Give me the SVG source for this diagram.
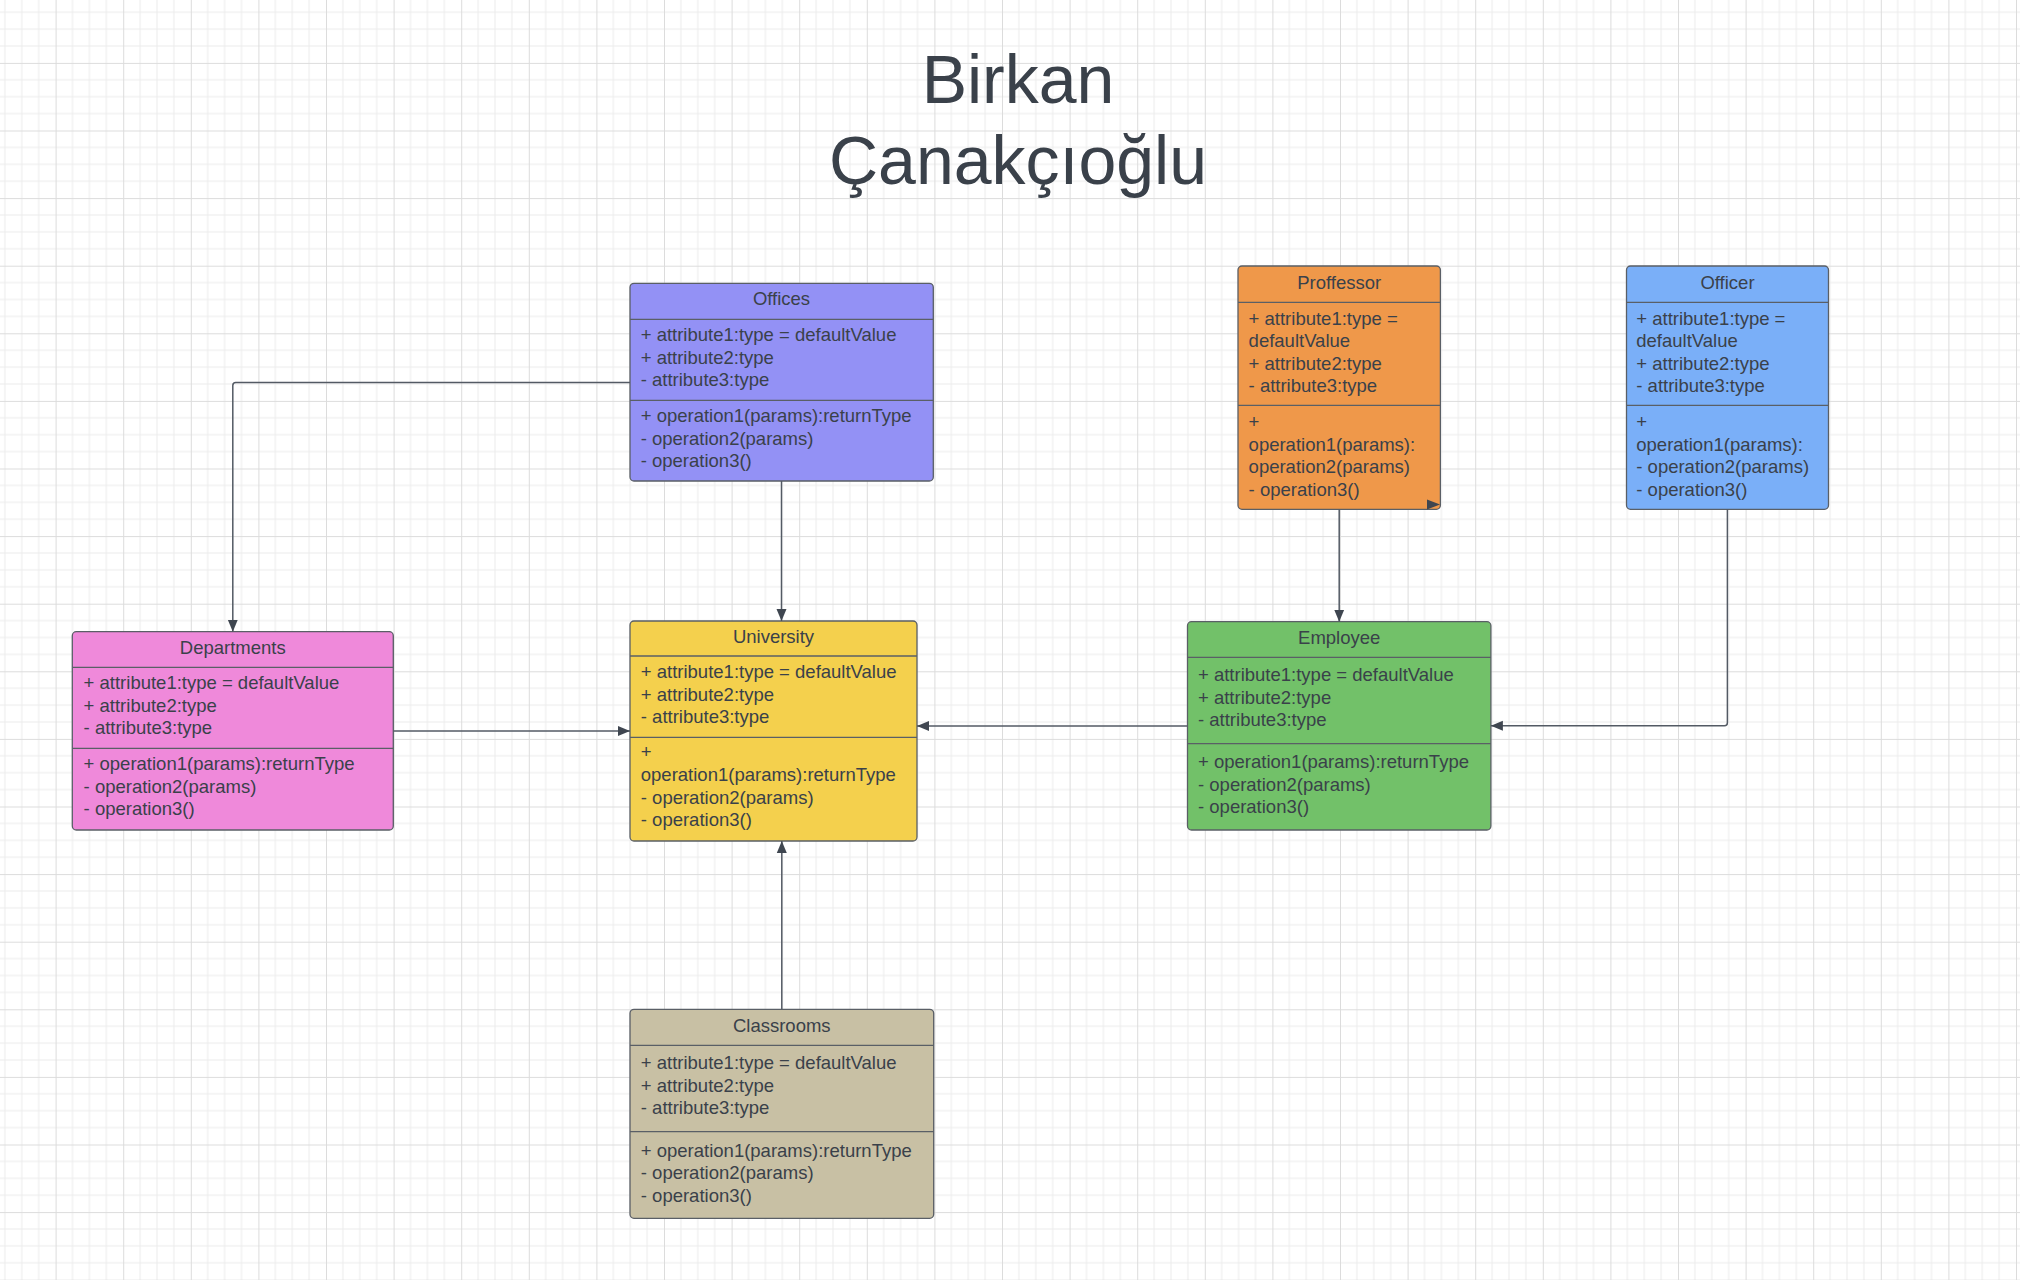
<svg xmlns="http://www.w3.org/2000/svg" width="2020" height="1280" viewBox="0 0 2020 1280">
<defs>
<pattern id="grid" patternUnits="userSpaceOnUse" x="55.6" y="62.9" width="67.6" height="67.6">
<path d="M16.9,0V67.6M33.8,0V67.6M50.7,0V67.6M0,16.9H67.6M0,33.8H67.6M0,50.7H67.6" stroke="#ececec" stroke-width="1" fill="none"/>
<path d="M0.5,0V67.6M0,0.5H67.6" stroke="#dcdcdc" stroke-width="1" fill="none"/>
</pattern>
<marker id="arr" markerUnits="userSpaceOnUse" markerWidth="13" markerHeight="11" refX="12" refY="5" orient="auto" viewBox="0 0 13 10">
<path d="M0,0L12,5L0,10z" fill="#3f4650"/>
</marker>
</defs>
<style>
.box{stroke:#5a5f66;stroke-width:1.3}
.div{stroke:#5a5f66;stroke-width:1.3}
text{font-family:"Liberation Sans",Arial,sans-serif;font-size:18.5px;fill:#3a414a}
.t{text-anchor:middle}
.title{font-size:68px;text-anchor:middle}
.con{fill:none;stroke:#535a64;stroke-width:1.5}
</style>
<rect width="2020" height="1280" fill="#ffffff"/>
<rect width="2020" height="1280" fill="url(#grid)"/>

<g id="title">
<text class="title" x="1018" y="102.7">Birkan</text>
<text class="title" x="1018" y="184.3">Çanakçıoğlu</text>
</g>

<g id="offices">
<rect class="box" x="630" y="283.3" width="303.3" height="197.7" rx="4" fill="#9391f5"/>
<line class="div" x1="630" y1="319.3" x2="933.3" y2="319.3"/>
<line class="div" x1="630" y1="400.3" x2="933.3" y2="400.3"/>
<text class="t" x="781.5" y="305">Offices</text>
<text x="640.7" y="341">+ attribute1:type = defaultValue</text>
<text x="640.7" y="363.5">+ attribute2:type</text>
<text x="640.7" y="385.5">- attribute3:type</text>
<text x="640.7" y="422">+ operation1(params):returnType</text>
<text x="640.7" y="444.5">- operation2(params)</text>
<text x="640.7" y="467">- operation3()</text>
</g>

<g id="departments">
<rect class="box" x="72.3" y="631.7" width="321" height="198.3" rx="4" fill="#ef89da"/>
<line class="div" x1="72.3" y1="667.3" x2="393.3" y2="667.3"/>
<line class="div" x1="72.3" y1="748.3" x2="393.3" y2="748.3"/>
<text class="t" x="232.8" y="654">Departments</text>
<text x="83.6" y="689">+ attribute1:type = defaultValue</text>
<text x="83.6" y="711.5">+ attribute2:type</text>
<text x="83.6" y="734">- attribute3:type</text>
<text x="83.6" y="770">+ operation1(params):returnType</text>
<text x="83.6" y="792.5">- operation2(params)</text>
<text x="83.6" y="815">- operation3()</text>
</g>

<g id="university">
<rect class="box" x="630" y="621" width="287" height="220" rx="4" fill="#f4d04d"/>
<line class="div" x1="630" y1="656" x2="917" y2="656"/>
<line class="div" x1="630" y1="737.3" x2="917" y2="737.3"/>
<text class="t" x="773.5" y="642.7">University</text>
<text x="640.8" y="678.3">+ attribute1:type = defaultValue</text>
<text x="640.8" y="701">+ attribute2:type</text>
<text x="640.8" y="723.3">- attribute3:type</text>
<text x="640.8" y="758">+</text>
<text x="640.8" y="781">operation1(params):returnType</text>
<text x="640.8" y="803.5">- operation2(params)</text>
<text x="640.8" y="826">- operation3()</text>
</g>

<g id="employee">
<rect class="box" x="1187.5" y="621.7" width="303.4" height="208.3" rx="4" fill="#72c169"/>
<line class="div" x1="1187.5" y1="657.3" x2="1490.9" y2="657.3"/>
<line class="div" x1="1187.5" y1="743.7" x2="1490.9" y2="743.7"/>
<text class="t" x="1339.2" y="644">Employee</text>
<text x="1198" y="681">+ attribute1:type = defaultValue</text>
<text x="1198" y="703.5">+ attribute2:type</text>
<text x="1198" y="726">- attribute3:type</text>
<text x="1198" y="768">+ operation1(params):returnType</text>
<text x="1198" y="790.5">- operation2(params)</text>
<text x="1198" y="813">- operation3()</text>
</g>

<g id="classrooms">
<rect class="box" x="630" y="1009.3" width="303.7" height="209" rx="4" fill="#c8c0a4"/>
<line class="div" x1="630" y1="1045.3" x2="933.7" y2="1045.3"/>
<line class="div" x1="630" y1="1131.7" x2="933.7" y2="1131.7"/>
<text class="t" x="781.8" y="1031.7">Classrooms</text>
<text x="640.8" y="1069.3">+ attribute1:type = defaultValue</text>
<text x="640.8" y="1092">+ attribute2:type</text>
<text x="640.8" y="1114">- attribute3:type</text>
<text x="640.8" y="1156.7">+ operation1(params):returnType</text>
<text x="640.8" y="1179">- operation2(params)</text>
<text x="640.8" y="1201.5">- operation3()</text>
</g>

<g id="proffessor">
<rect class="box" x="1238" y="266" width="202.4" height="243.3" rx="4" fill="#ef984a"/>
<line class="div" x1="1238" y1="302.3" x2="1440.4" y2="302.3"/>
<line class="div" x1="1238" y1="405.3" x2="1440.4" y2="405.3"/>
<text class="t" x="1339.2" y="289.3">Proffessor</text>
<text x="1248.6" y="325">+ attribute1:type =</text>
<text x="1248.6" y="347.3">defaultValue</text>
<text x="1248.6" y="369.6">+ attribute2:type</text>
<text x="1248.6" y="392">- attribute3:type</text>
<text x="1248.6" y="428">+</text>
<text x="1248.6" y="450.5">operation1(params):</text>
<text x="1248.6" y="473">operation2(params)</text>
<text x="1248.6" y="495.5">- operation3()</text>
</g>

<g id="officer">
<rect class="box" x="1626.5" y="266" width="202" height="243.3" rx="4" fill="#7aaff8"/>
<line class="div" x1="1626.5" y1="302.3" x2="1828.5" y2="302.3"/>
<line class="div" x1="1626.5" y1="405.3" x2="1828.5" y2="405.3"/>
<text class="t" x="1727.5" y="289.3">Officer</text>
<text x="1636.3" y="325">+ attribute1:type =</text>
<text x="1636.3" y="347.3">defaultValue</text>
<text x="1636.3" y="369.6">+ attribute2:type</text>
<text x="1636.3" y="392">- attribute3:type</text>
<text x="1636.3" y="428">+</text>
<text x="1636.3" y="450.5">operation1(params):</text>
<text x="1636.3" y="473">- operation2(params)</text>
<text x="1636.3" y="495.5">- operation3()</text>
</g>

<g id="connectors">
<path class="con" d="M630,382.5H235.8Q232.8,382.5 232.8,385.5V631.7" marker-end="url(#arr)"/>
<path class="con" d="M781.5,481V621" marker-end="url(#arr)"/>
<path class="con" d="M393.3,731H630" marker-end="url(#arr)"/>
<path class="con" d="M781.8,1009.3V841" marker-end="url(#arr)"/>
<path class="con" d="M1187.5,726H917" marker-end="url(#arr)"/>
<path class="con" d="M1339.2,509.3V621.7" marker-end="url(#arr)"/>
<path class="con" d="M1727.4,509.3V722.7Q1727.4,725.7 1724.4,725.7H1490.9" marker-end="url(#arr)"/>
<path d="M1427,499.5L1440,504.5L1427,509.5z" fill="#3f4650"/>
</g>
</svg>
